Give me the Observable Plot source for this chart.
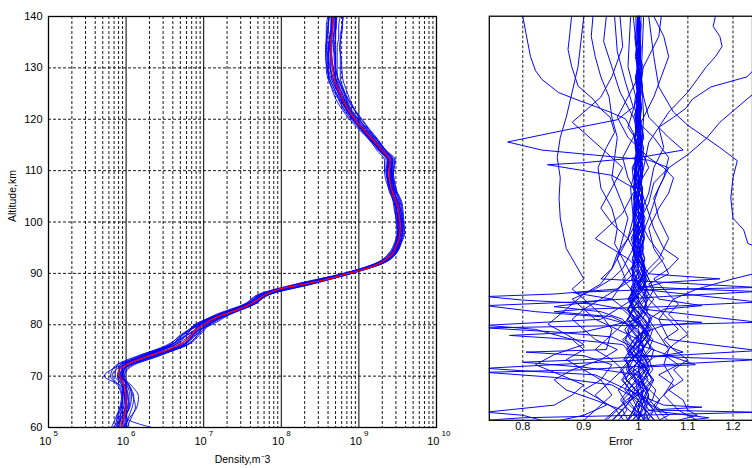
<!DOCTYPE html>
<html><head><meta charset="utf-8">
<script src="https://cdn.jsdelivr.net/npm/d3@7"></script>
<script src="https://cdn.jsdelivr.net/npm/@observablehq/plot@0.6"></script>
<style>
html,body{margin:0;padding:0;background:#fff;overflow:hidden;}
#wrap{position:relative;width:752px;height:468px;overflow:hidden;background:#fff;}
#left{position:absolute;left:0;top:0;}
#right{position:absolute;left:460px;top:0;}
svg{overflow:hidden;}
</style></head>
<body><div id="wrap"><div id="left"></div><div id="right"></div></div>
<script>
// ---------- DATA ----------
const densityExponents = [5, 6, 7, 8, 9, 10];
const minorMultipliers = [2, 3, 4, 5, 6, 7, 8, 9];
const altitudeTicks = [60, 70, 80, 90, 100, 110, 120, 130, 140];
const altitudeGrid = [70, 80, 90, 100, 110, 120, 130];
const errorTicks = [0.8, 0.9, 1, 1.1, 1.2];

// mean profile (red), log10 density, 1 km steps
const meanAltitudes = [60,61,62,63,64,65,66,67,68,69,70,71,72,73,74,75,76,77,78,79,80,81,82,83,84,85,86,87,88,89,90,91,92,93,94,95,96,97,98,99,100,101,102,103,104,105,106,107,108,109,110,111,112,113,114,115,116,117,118,119,120,121,122,123,124,125,126,127,128,129,130,131,132,133,134,135,136,137,138,139,140];
const meanLogDensity = [5.95,5.94,5.97,5.99,6.00,6.00,6.00,5.99,5.98,5.95,5.92,5.90,5.98,6.12,6.30,6.52,6.66,6.78,6.84,6.90,7.00,7.10,7.26,7.45,7.60,7.71,7.81,7.99,8.33,8.63,8.86,9.12,9.27,9.37,9.44,9.47,9.50,9.52,9.53,9.53,9.53,9.52,9.51,9.50,9.48,9.45,9.43,9.41,9.40,9.39,9.39,9.40,9.40,9.36,9.29,9.24,9.18,9.12,9.06,8.99,8.95,8.90,8.86,8.82,8.79,8.76,8.73,8.70,8.68,8.67,8.66,8.65,8.65,8.64,8.64,8.64,8.65,8.66,8.66,8.67,8.67];

// individual density profiles (blue): log10 offsets from mean, in hundredths, 2 km steps
const profileAltitudes = [60,62,64,66,68,70,72,74,76,78,80,82,84,86,88,90,92,94,96,98,100,102,104,106,108,110,112,114,116,118,120,122,124,126,128,130,132,134,136,138,140];
const profileOffsets = [
 [3,2,4,5,4,2,6,8,10,9,6,5,4,6,8,4,3,3,2,3,2,1,2,3,4,3,2,4,5,6,5,4,5,6,5,4,5,6,5,4,5],
 [-4,-5,-3,-2,-3,-3,-2,-6,-9,-10,-7,-5,-4,-6,-7,-4,-3,-2,-2,-3,-2,-2,-3,-4,-3,-2,-3,-4,-5,-4,-5,-6,-5,-5,-6,-6,-5,-4,-5,-6,-5],
 [1,8,14,16,10,4,2,-4,-8,-12,-4,2,3,4,6,3,2,1,2,1,2,3,2,1,2,3,4,2,1,2,3,2,1,0,2,3,4,3,2,3,2],
 [-8,-6,-4,-5,-6,-10,-4,4,7,6,3,6,5,2,-2,-2,-1,-2,-3,-2,-1,-2,-1,-2,-3,-4,-5,-3,-2,-1,-2,-3,-4,-5,-6,-7,-8,-7,-6,-5,-6],
 [5,3,1,0,2,4,1,-2,-4,-5,-2,-3,-4,-2,1,2,4,5,4,3,4,5,6,5,4,6,7,6,5,4,6,8,9,10,11,12,12,11,12,13,12],
 [-6,-3,-1,-2,-4,-20,-8,-10,-12,-14,-8,-6,-5,-4,-3,-3,-4,-3,-2,-2,-3,-2,-1,-1,-2,-2,-1,-2,-3,-2,-1,-2,-3,-2,-1,-3,-4,-3,-2,-1,-2],
 [38,3,5,7,6,3,4,6,6,5,5,4,5,5,4,3,5,4,3,4,3,4,5,4,3,5,6,4,3,5,4,3,4,5,4,6,7,8,9,8,9],
 [-10,-8,-6,-4,-2,0,3,9,12,11,8,7,5,3,2,1,0,-1,0,1,2,1,0,-1,0,2,3,1,0,-2,-3,-2,-1,-3,-4,-5,-4,-3,-2,-1,0],
 [-12,-2,2,3,1,-1,-6,-12,-14,-12,-10,-8,-7,-8,-10,-5,-4,-5,-4,-3,-4,-5,-4,-3,-5,-6,-7,-6,-4,-3,-4,-5,-6,-7,-8,-8,-7,-6,-7,-8,-7],
 [2,0,-1,1,3,5,8,12,12,8,2,-2,-3,-1,0,2,1,2,3,2,1,0,1,2,1,0,-1,1,2,3,2,1,2,3,2,1,0,1,2,3,2],
 [-3,-4,-6,-4,-1,2,-1,-5,-6,-7,-9,-10,-8,-9,-12,-6,-5,-4,-3,-4,-5,-4,-3,-2,-3,-4,-3,-2,-1,-2,-3,-2,-1,-2,-3,-2,-1,-2,-3,-2,-3],
 [6,10,12,9,6,3,-2,1,4,3,1,3,4,6,9,5,4,3,4,5,4,3,4,5,6,5,4,5,6,7,8,7,6,7,8,10,11,12,11,12,13],
 [-2,1,3,2,0,-3,-4,-8,-10,-6,10,8,6,4,3,1,0,-1,-2,-1,0,1,0,-1,-2,-3,-2,-1,0,1,0,-1,0,1,2,1,0,-1,0,1,0],
 [0,-2,-1,0,1,-1,5,10,7,3,-6,-4,-2,0,2,1,2,3,1,0,-1,0,1,2,3,2,1,-1,-2,-3,-1,0,1,-1,-2,-3,-2,-1,0,-1,-2],
 [-6,-9,-7,-5,-3,-6,-10,-14,-10,-6,-12,-7,-6,-5,-5,-4,-2,-1,-1,-2,-3,-3,-2,0,1,2,0,-2,-4,-6,-7,-8,-9,-8,-7,-6,-5,-6,-7,-6,-5],
 [4,6,8,10,7,6,10,14,8,2,0,2,2,3,5,5,4,4,5,6,5,6,7,6,5,4,3,5,7,8,9,8,7,6,5,4,3,4,5,4,3],
 [-14,-10,-8,-6,-8,-12,-12,-2,2,-2,-4,-3,-2,-1,-4,-2,-1,0,1,0,-1,0,-1,0,1,0,-2,-3,-2,0,1,2,3,2,1,0,-1,0,-1,-2,-1],
 [9,4,0,-2,-1,1,-3,-6,-4,0,6,3,1,-1,-3,0,1,2,0,-1,0,2,3,1,-1,-2,0,2,3,1,-1,-3,-2,0,2,4,5,4,3,5,4]
];

// error profiles, tight bundle: deviation from 1 in thousandths, 2 km steps (profileAltitudes)
const bundleDeviations = [
 [-22,-8,6,18,5,-14,-26,-6,12,24,9,-5,-15,-3,8,12,4,-8,-14,-5,6,11,6,-2,-10,-12,-3,4,10,6,-2,-8,-6,1,7,9,2,-5,-7,-2,3],
 [18,30,12,-6,-24,-16,3,20,28,10,-8,-20,-6,9,15,6,-5,-12,-3,8,13,5,-3,-10,-7,2,8,10,3,-5,-9,-3,4,8,5,-2,-6,-4,2,5,1],
 [-38,-22,-30,-12,7,22,14,-5,-24,-18,-2,12,17,6,-8,-13,-5,5,12,9,-2,-9,-8,0,7,8,2,-5,-8,-2,4,6,2,-4,-6,0,4,5,1,-3,-2],
 [32,14,-7,-26,-16,5,24,30,12,-9,-22,-7,10,15,4,-7,-12,-4,6,13,7,-3,-10,-6,3,9,6,-2,-7,-5,2,6,4,-2,-5,-2,2,4,2,0,-1],
 [6,-18,-34,-20,0,16,7,-12,-26,-12,7,19,10,-5,-13,-8,3,10,6,-4,-9,-3,5,8,2,-5,-7,0,5,4,-2,-4,0,4,2,-2,-3,0,3,1,-2],
 [-48,-32,-14,9,26,17,-2,-21,-9,12,26,14,-5,-15,-7,5,12,7,-3,-10,-7,2,9,7,0,-6,-6,0,5,5,0,-4,-4,0,3,3,0,-3,0,3,1],
 [42,30,17,-5,-23,-30,-12,9,19,7,-12,-21,-9,6,15,10,-3,-11,-8,1,9,7,0,-7,-8,-2,5,7,2,-4,-6,-2,2,5,2,-2,-3,0,2,1,0],
 [-12,7,27,34,16,-7,-28,-16,5,21,12,-7,-17,-7,7,14,6,-5,-11,-4,4,9,4,-3,-8,-5,2,7,5,0,-5,-4,0,4,4,0,-3,-3,0,2,1],
 [14,-5,-19,-7,12,28,21,2,-16,-26,-10,9,19,10,-5,-13,-8,3,10,7,-1,-8,-6,2,7,7,0,-6,-6,0,4,4,0,-3,-3,0,3,1,0,-2,0],
 [-28,-42,-23,2,19,9,-9,-16,0,16,23,7,-9,-14,-2,9,12,3,-7,-10,-3,6,9,3,-5,-8,-2,4,6,2,-4,-4,0,3,3,0,-3,0,1,0,1],
 [58,38,22,11,-9,-23,-16,5,21,28,12,-9,-19,-10,5,13,8,-3,-10,-7,2,9,6,-2,-7,-5,2,6,4,-2,-4,-2,2,3,0,-2,0,2,0,-1,2],
 [-6,20,9,-16,-32,-18,7,25,16,-5,-19,-12,5,17,10,-4,-11,-7,3,10,6,-3,-8,-5,2,7,5,-2,-6,-4,2,4,2,-2,-3,0,2,1,-2,0,1],
 [22,-7,-27,-38,-20,2,16,5,-14,-21,-5,12,15,3,-10,-12,-1,8,10,2,-6,-8,-2,5,7,2,-4,-6,-2,4,4,0,-3,-3,0,3,1,0,-1,0,0],
 [-64,-44,-16,13,29,11,-11,-23,-7,14,21,5,-12,-13,3,12,8,-3,-9,-6,3,8,5,-3,-7,-4,3,6,2,-2,-4,-2,2,3,0,0,-1,1,0,-1,2],
 [9,29,42,22,-2,-18,-23,-7,12,19,5,-12,-15,0,12,10,-1,-9,-6,3,8,5,-2,-7,-5,2,6,4,-2,-4,-2,2,3,0,-2,0,1,2,0,-1,0],
 [-20,-2,13,-5,-22,-34,-16,7,23,14,-7,-19,-7,10,15,5,-7,-11,-4,6,9,3,-5,-8,-3,3,7,4,-2,-6,-4,2,4,2,-2,-2,0,2,0,0,-1]
];

// error profiles with large excursions: [altitude km, error]
const wanderProfiles = [
 [[140,0.80],[136.6,0.805],[132,0.812],[129.2,0.82],[127.5,0.83],[124.9,0.857],[123.6,0.885],[122.3,0.916],[121,0.947],[119.7,0.975],[117,0.99],[112,1.0],[106,0.985],[100,0.99],[96,1.01],[92,1.0],[89,1.02],[88,1.17],[87.3,1.05],[86,1.0],[82,0.98],[78,1.01],[74,1.0],[70,0.98],[66,1.01],[62,1.0],[60,0.99]],
 [[140,0.879],[136.6,0.876],[133.4,0.873],[130.1,0.879],[126.2,0.89],[123.6,0.916],[121.6,0.93],[120,0.947],[117,0.955],[114,0.94],[110,0.925],[106,0.93],[102,0.95],[98,0.96],[95,0.955],[92,0.97],[88,0.99],[86,0.96],[85,0.85],[84.5,0.745],[83.8,0.8],[83,0.92],[82,0.97],[79,1.0],[76,0.97],[73,0.99],[70,1.02],[66,1.0],[62,0.97],[60,0.98]],
 [[140,0.955],[133,0.96],[127,0.975],[122,0.99],[119.5,0.96],[117.5,0.87],[115.1,0.777],[113.5,0.83],[112.5,0.92],[111.5,1.02],[110,1.06],[106,1.04],[100,1.02],[95,1.0],[90,0.99],[86.5,1.0],[86,1.1],[85.5,1.26],[84.5,1.05],[83.5,0.9],[82.7,0.745],[81.5,0.82],[80.5,0.93],[79,0.98],[75,1.01],[70,1.0],[65,1.02],[60,1.0]],
 [[140,0.99],[130,1.0],[124,1.01],[120,1.02],[116,1.06],[113.5,1.09],[112,1.0],[111,0.9],[110.6,0.839],[109.8,0.88],[108.5,0.95],[106,0.99],[100,1.01],[95,0.99],[90,1.0],[85,1.02],[82,1.0],[80,1.04],[79.4,1.13],[78.8,1.05],[77,1.0],[74,0.99],[70,1.01],[66,0.98],[62,1.0],[60,1.01]],
 [[140,1.16],[138,1.155],[136,1.17],[134,1.175],[132,1.16],[130,1.14],[127.5,1.12],[125,1.10],[123,1.08],[121,1.06],[118,1.04],[114,1.05],[110,1.03],[105,1.02],[100,1.0],[96,1.02],[92,1.05],[90,1.03],[87,1.0],[84,0.98],[80,1.0],[76,1.02],[73.5,1.09],[72.5,1.03],[70,1.0],[66,1.01],[62,0.99],[60,1.0]],
 [[140,1.3],[132,1.28],[128,1.233],[126,1.15],[123.6,1.11],[121.7,1.095],[120,1.07],[118,1.04],[115,1.02],[110,1.01],[105,1.0],[100,0.99],[95,1.0],[90,1.01],[86,1.0],[83.4,1.26],[82.5,1.05],[82,0.9],[81.5,0.85],[80.5,0.95],[78,1.0],[74,1.01],[70,0.99],[65,1.0],[60,1.02]],
 [[140,1.33],[128,1.3],[123.6,1.233],[119,1.17],[115.8,1.14],[112.6,1.10],[110,1.06],[107,1.03],[103,1.02],[99,1.0],[94,0.99],[90,1.0],[86,0.99],[82,1.01],[79.4,1.26],[78.8,1.0],[78.3,0.745],[77.5,0.85],[76.5,0.95],[74,1.0],[71,1.02],[68,1.0],[64,1.01],[60,1.0]],
 [[140,1.02],[132,1.03],[126,1.04],[121,1.07],[118.4,1.10],[114,1.17],[111.4,1.21],[108,1.2],[104,1.195],[100,1.2],[97.7,1.225],[95,1.235],[93,1.3],[90,1.3],[88,1.2],[86,1.12],[84,1.07],[80,1.04],[76,1.06],[73.8,1.26],[73,1.1],[72,0.9],[71.5,0.8],[70.5,0.9],[69,1.0],[65,1.02],[60,1.01]],
 [[140,0.916],[136,0.913],[132,0.92],[128,0.93],[124,0.945],[120,0.95],[116,0.96],[112,0.955],[108,0.95],[104,0.965],[100,0.98],[96,0.97],[92,0.96],[88,0.975],[84,0.95],[82.5,0.85],[81.5,0.93],[80,0.97],[76,1.0],[73,0.98],[72.4,1.1],[72,1.26],[71,1.05],[70,0.9],[69.5,0.745],[68.5,0.85],[67,0.95],[64,1.0],[60,0.98]],
 [[140,0.94],[135,0.935],[130,0.95],[125,0.965],[120,0.99],[116,1.03],[112,1.06],[108,1.05],[104,1.03],[100,1.04],[96,1.06],[92,1.04],[90,1.02],[87,1.0],[84,1.03],[80,1.0],[77.5,0.9],[76.8,0.78],[76,0.88],[75,0.97],[72,1.0],[68,1.03],[64,1.01],[62,1.04],[61.6,1.26],[61,1.0],[60.5,0.8],[60,0.745]],
 [[140,0.9],[130,0.89],[125,0.88],[120,0.87],[116,0.86],[112,0.855],[108,0.86],[104,0.858],[100,0.86],[97,0.865],[94,0.87],[91,0.885],[88,0.9],[86,0.88],[84,0.9],[81,0.93],[78,0.95],[74,0.94],[73.5,0.805],[72.8,0.9],[71,0.95],[68,0.93],[65,0.95],[62,0.92],[60,0.9]],
 [[140,1.03],[136,1.05],[132,1.06],[128,1.045],[124,1.03],[120,1.01],[116,0.99],[112,0.97],[108,0.98],[104,1.0],[100,0.99],[96,0.98],[93,0.96],[90,0.95],[88,0.93],[86.3,1.26],[85.8,1.0],[85.3,0.88],[84,0.95],[80,1.0],[77,1.02],[75,1.0],[71,1.116],[70.5,1.0],[68,0.97],[64,1.0],[60,1.03]],
 [[140,0.965],[134,0.97],[128,0.95],[124,0.93],[121,0.9],[119,0.88],[117,0.9],[113,0.94],[110,0.97],[106,0.95],[102,0.93],[99,0.95],[96,0.98],[92,1.0],[88,0.97],[84,1.0],[80,0.98],[78,0.96],[76,1.0],[72,1.02],[70.3,0.745],[69.8,0.8],[69,0.92],[66,0.98],[63,1.05],[62.6,1.13],[62,1.02],[60.5,1.145],[60,1.1]],
 [[140,1.045],[136,1.04],[132,1.02],[128,1.0],[124,0.98],[120,0.96],[116,0.98],[112,1.02],[110,1.05],[108,1.07],[105,1.06],[102,1.04],[98,1.02],[94,1.03],[91,1.05],[89,1.06],[87,1.02],[84,1.04],[82.7,1.13],[82,1.05],[80,1.02],[77,1.04],[74,1.06],[71,1.05],[68,1.07],[65,1.05],[62,1.08],[60,1.12]],
 [[140,1.0],[125,1.0],[118,0.98],[115,1.0],[110,1.02],[105,0.99],[101,0.97],[98,0.94],[96,0.92],[94,0.95],[92,0.98],[90,1.0],[88,0.98],[86,0.96],[84,0.93],[82,0.9],[80,0.92],[78,0.96],[76,0.94],[74,0.92],[72,0.95],[70,0.97],[68,0.95],[65,0.92],[63,0.94],[61,0.9],[60,0.86]],
 [[140,0.985],[130,0.98],[122,1.0],[116,1.01],[110,0.99],[104,1.01],[98,1.03],[94,1.05],[92,1.08],[90,1.06],[88,1.03],[86,1.05],[83,1.08],[81,1.06],[79,1.08],[77,1.1],[75,1.07],[73,1.05],[71,1.08],[69,1.04],[67,1.07],[65,1.05],[63,1.03],[61,1.06],[60,1.04]],
 [[140,1.0],[120,1.01],[104,1.0],[98,0.99],[94,0.97],[90,0.95],[87,0.93],[85,0.9],[83,0.88],[81,0.86],[79,0.84],[77,0.87],[75,0.9],[73,0.85],[71,0.82],[69,0.86],[67,0.9],[65,0.88],[63,0.85],[61.6,0.745],[61,0.8],[60,0.83]],
 [[140,1.01],[115,1.0],[100,1.01],[92,1.0],[88,1.02],[84,0.99],[82,0.96],[80,0.93],[78.8,0.745],[78,0.82],[76,0.88],[74,0.9],[72,0.87],[70,0.9],[68,0.93],[66,0.9],[64,0.93],[62,0.96],[60,0.94]],
 [[140,0.995],[118,1.0],[100,0.99],[90,1.01],[86,1.03],[84,1.02],[82,1.04],[80,1.06],[78,1.08],[76,1.05],[74,1.07],[72,1.1],[70,1.07],[68,1.09],[66,1.06],[64,1.09],[62,1.1],[61,1.12],[60,1.08]],
 [[140,1.005],[110,1.0],[96,1.0],[92,0.98],[90,0.97],[88,0.95],[86,0.92],[84,0.88],[82,0.9],[80,0.88],[78,0.9],[76,0.92],[74,0.96],[72,0.93],[70,0.88],[68,0.85],[66,0.87],[64,0.92],[62,0.97],[60,0.95]]
];

// ---------- TABLES ----------
const meanRows = meanAltitudes.map((a, i) => ({alt: a, d: Math.pow(10, meanLogDensity[i])}));
const profileRows = [];
profileOffsets.forEach((offs, k) => {
  profileAltitudes.forEach((a, i) => {
    const m = meanLogDensity[meanAltitudes.indexOf(a)];
    profileRows.push({id: k, alt: a, d: Math.pow(10, m + offs[i] / 100)});
  });
});
const majorTicks = densityExponents.map(e => Math.pow(10, e));
const minorTicks = [];
densityExponents.slice(0, -1).forEach(e => minorMultipliers.forEach(m => minorTicks.push(m * Math.pow(10, e))));

const errorRows = [];
bundleDeviations.forEach((devs, k) => {
  profileAltitudes.forEach((a, i) => errorRows.push({id: "b" + k, alt: a, err: 1 + devs[i] / 1000}));
});
wanderProfiles.forEach((pts, k) => {
  pts.forEach(([a, e]) => errorRows.push({id: "w" + k, alt: a, err: e}));
});

const font = "'Liberation Sans', Arial, Helvetica, sans-serif";

// ---------- LEFT PANEL ----------
const left = Plot.plot({
  width: 460, height: 468,
  marginLeft: 48, marginRight: 24, marginTop: 16, marginBottom: 41,
  style: {fontFamily: font, fontSize: "11px", color: "#000", background: "transparent", overflow: "visible"},
  x: {type: "log", domain: [1e5, 1e10], axis: null},
  y: {domain: [60, 140], ticks: altitudeTicks, tickSize: 0, tickPadding: 6, label: null},
  marks: [
    Plot.ruleX(minorTicks, {stroke: "#000", strokeWidth: 0.9, strokeDasharray: "3,2"}),
    Plot.ruleX(majorTicks, {stroke: "#000", strokeWidth: 1}),
    Plot.ruleY(altitudeGrid, {stroke: "#000", strokeWidth: 0.9, strokeDasharray: "3,2"}),
    Plot.line(profileRows, {x: "d", y: "alt", z: "id", stroke: "#0000ff", strokeWidth: 0.9, curve: "monotone-y"}),
    Plot.line(meanRows, {x: "d", y: "alt", stroke: "#ff0000", strokeWidth: 1.3, curve: "monotone-y"}),
    Plot.frame({stroke: "#000", strokeWidth: 1.3}),
    Plot.text(densityExponents, {x: e => Math.pow(10, e), text: () => "10", frameAnchor: "bottom", dy: 17, dx: 3, textAnchor: "end", fontSize: 11}),
    Plot.text(densityExponents, {x: e => Math.pow(10, e), text: e => String(e), frameAnchor: "bottom", dy: 8, dx: 5, textAnchor: "start", fontSize: 8}),
    Plot.text(["Density,m\u207B3"], {frameAnchor: "bottom", dy: 35, fontSize: 10.5}),
    Plot.text(["Altitude,km"], {frameAnchor: "left", dx: -36, rotate: -90, fontSize: 10.5})
  ]
});
document.getElementById("left").appendChild(left);

// ---------- RIGHT PANEL ----------
const right = Plot.plot({
  width: 297, height: 468,
  marginLeft: 29.3, marginRight: 0, marginTop: 16, marginBottom: 41,
  style: {fontFamily: font, fontSize: "11px", color: "#000", background: "transparent", overflow: "visible"},
  x: {type: "log", domain: [0.75, 1.246], axis: null},
  y: {domain: [60, 140], axis: null},
  marks: [
    Plot.ruleX(errorTicks, {stroke: "#000", strokeWidth: 0.9, strokeDasharray: "3,2"}),
    Plot.line(errorRows, {x: "err", y: "alt", z: "id", stroke: "#0000ff", strokeWidth: 1, curve: "linear", clip: true}),
    Plot.frame({stroke: "#000", strokeWidth: 1.3}),
    Plot.text(errorTicks, {x: d => d, text: d => String(d), frameAnchor: "bottom", dy: 10, fontSize: 11}),
    Plot.text(["Error"], {frameAnchor: "bottom", dy: 25, fontSize: 11})
  ]
});
document.getElementById("right").appendChild(right);
</script>
</body></html>
